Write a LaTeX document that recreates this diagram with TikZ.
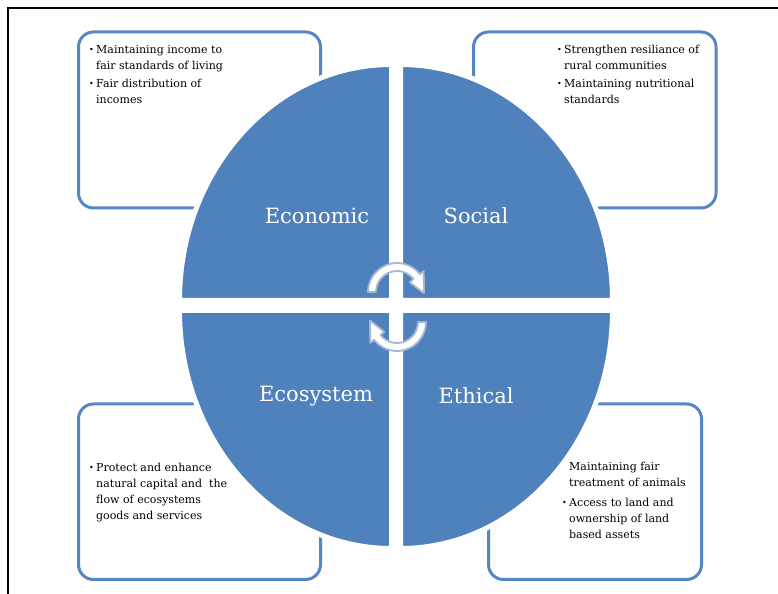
\documentclass[tikz,border=0pt]{standalone}
\usepackage{fontspec}
\setmainfont{DejaVu Serif}
\definecolor{qblue}{RGB}{79,129,189}
\definecolor{boxblue}{RGB}{84,134,195}
\definecolor{arrline}{RGB}{165,185,212}
\newcommand\bul{\makebox[7bp][l]{\fontsize{8bp}{8bp}\selectfont\raisebox{1bp}{\textbullet}}}
\newcommand\nob{\hspace*{7bp}}
\tikzset{cyc/.pic={\filldraw[cycarrow] (180:29) arc[start angle=180,end angle=38,radius=29] -- (38:34) -- (-3:27) -- (38:16) -- (38:21) arc[start angle=38,end angle=180,radius=21] -- cycle;}}
\begin{document}
\begin{tikzpicture}[x=1bp,y=1bp,
 infobox/.style={draw=boxblue, line width=3bp, rounded corners=15bp},
 quadrant/.style={fill=qblue, draw=white, line width=5bp},
 qlabel/.style={text=white, font=\fontsize{21bp}{25bp}\selectfont, inner sep=0},
 itemtext/.style={anchor=base west, inner sep=0, font=\fontsize{11bp}{16bp}\selectfont},
 cycarrow/.style={fill=white, draw=arrline, line width=1.8bp, line join=round}]
\useasboundingbox (0,0) rectangle (778,594);
\fill[white] (0,0) rectangle (778,594);
\draw[line width=2bp] (8,0) -- (8,586) -- (778,586);
% boxes
\draw[infobox] (78.5,562) rectangle (320.5,386);
\draw[infobox] (473.5,562) rectangle (716,386);
\draw[infobox] (78.5,190) rectangle (320.5,14.5);
\draw[infobox] (488.5,190) rectangle (701.5,14.5);
% quadrants
\filldraw[quadrant] (391.5,293.5) -- ++(-212,0) arc[start angle=180,end angle=90,x radius=212,y radius=236] -- cycle;
\filldraw[quadrant] (400.5,293.5) -- ++(212,0) arc[start angle=0,end angle=90,x radius=212,y radius=236] -- cycle;
\filldraw[quadrant] (391.5,283.5) -- ++(-212,0) arc[start angle=180,end angle=270,x radius=212,y radius=238] -- cycle;
\filldraw[quadrant] (400.5,283.5) -- ++(212,0) arc[start angle=0,end angle=-90,x radius=212,y radius=238] -- cycle;
% labels
\node[qlabel] (econ) at (317,378) {Economic};
\node[qlabel] (soc) at (476,378) {Social};
\node[qlabel] (eco) at (316,198) {Ecosystem};
\node[qlabel] (eth) at (476,198) {Ethical};
% cycle arrows
\pic at (397,302) {cyc};
\pic[rotate=180] at (397,272) {cyc};
% texts
\node[itemtext] (tl) at (89,540) {\begin{tabular}[t]{@{}l@{}}\bul Maintaining income to\\ \nob fair standards of living\\[2bp] \bul Fair distribution of\\ \nob incomes\end{tabular}};
\node[itemtext] (tr) at (557,540) {\begin{tabular}[t]{@{}l@{}}\bul Strengthen resiliance of\\ \nob rural communities\\[2bp] \bul Maintaining nutritional\\ \nob standards\end{tabular}};
\node[itemtext] (bl) at (89,122.5) {\begin{tabular}[t]{@{}l@{}}\bul Protect and enhance\\ \nob natural capital and\ \ the\\ \nob flow of ecosystems\\ \nob goods and services\end{tabular}};
\node[itemtext] (br) at (562,123.5) {\begin{tabular}[t]{@{}l@{}}\nob Maintaining fair\\ \nob treatment of animals\\[4bp] \bul Access to land and\\ \nob ownership of land\\ \nob based assets\end{tabular}};
\end{tikzpicture}
\end{document}
